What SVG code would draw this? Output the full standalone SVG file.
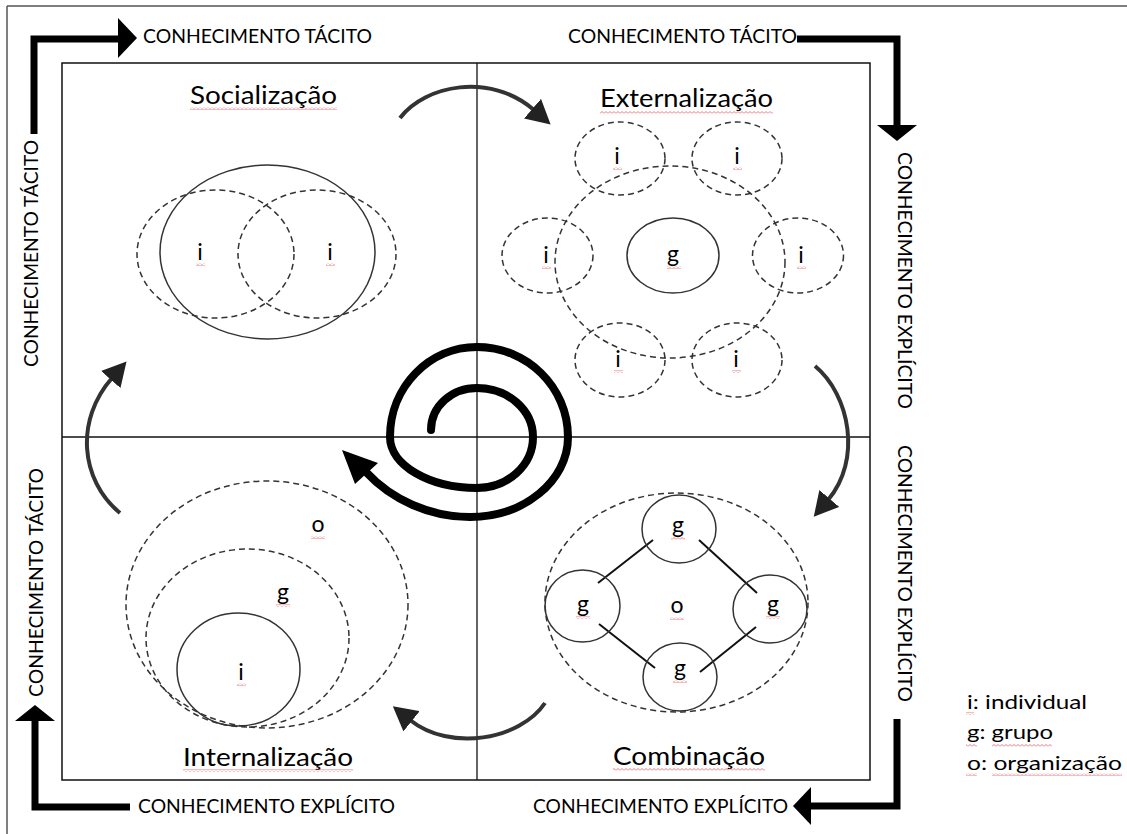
<svg xmlns="http://www.w3.org/2000/svg" width="1127" height="834" viewBox="0 0 1127 834">
<style>
.page{stroke:#555;stroke-width:1.5;fill:none}
.frame{fill:none;stroke:#111;stroke-width:1.5}
.axis{stroke:#111;stroke-width:1.3}
.thick{fill:none;stroke:#000;stroke-width:7;stroke-linejoin:miter}
.head{fill:#000}
.solid{fill:none;stroke:#333;stroke-width:1.5}
.dash{fill:none;stroke:#333;stroke-width:1.5;stroke-dasharray:6 4}
.curve{fill:none;stroke:#333;stroke-width:4;marker-end:url(#ah)}
.spiral{fill:none;stroke:#000;stroke-width:8;stroke-linecap:round}
.link{stroke:#111;stroke-width:2}
text{font-family:Lato,"Open Sans",sans-serif;fill:#000}
.lbl{font-size:19px}
.title{font-size:25px}
.letter{font-size:23px;text-anchor:middle}
.leg{font-size:20px}
.sq{fill:url(#squig)}
</style>
<defs>
<pattern id="squig" patternUnits="userSpaceOnUse" width="4" height="3">
<path d="M0,2.5 L2,0.5 L4,2.5" fill="none" stroke="#e55" stroke-width="0.8"/>
</pattern>
<marker id="ah" viewBox="0 0 24 26" refX="2" refY="13" markerWidth="24" markerHeight="26" markerUnits="userSpaceOnUse" orient="auto">
<path d="M0,0 L24,13 L0,26 z" fill="#222"/>
</marker>
</defs>

<line class="page" x1="7" y1="6" x2="1127" y2="6"/>
<line class="page" x1="7" y1="6" x2="7" y2="834"/>

<g id="frame">
<rect class="frame" x="62" y="63" width="808" height="717"/>
<line class="axis" x1="477" y1="63" x2="477" y2="780"/>
<line class="axis" x1="62" y1="437" x2="870" y2="437"/>
</g>

<g id="axis-arrows">
<path class="thick" d="M34,134 V39 H120"/>
<polygon class="head" points="118,18 137,38 118,58"/>
<path class="thick" d="M797,39 H897 V127"/>
<polygon class="head" points="877,125 917,125 897,141"/>
<path class="thick" d="M897,719 V806 H811"/>
<polygon class="head" points="811,787 811,825 793,806"/>
<path class="thick" d="M130,807 H35 V719"/>
<polygon class="head" points="15,721 55,721 35,705"/>
</g>

<g id="axis-labels">
<text class="lbl" x="143" y="43" textLength="229" lengthAdjust="spacingAndGlyphs">CONHECIMENTO TÁCITO</text>
<text class="lbl" x="568" y="43" textLength="229" lengthAdjust="spacingAndGlyphs">CONHECIMENTO TÁCITO</text>
<text class="lbl" x="533" y="813" textLength="255" lengthAdjust="spacingAndGlyphs">CONHECIMENTO EXPLÍCITO</text>
<text class="lbl" x="138" y="813" textLength="257" lengthAdjust="spacingAndGlyphs">CONHECIMENTO EXPLÍCITO</text>
<text class="lbl" transform="translate(38,367) rotate(-90)" textLength="227" lengthAdjust="spacingAndGlyphs">CONHECIMENTO TÁCITO</text>
<text class="lbl" transform="translate(43,697) rotate(-90)" textLength="229" lengthAdjust="spacingAndGlyphs">CONHECIMENTO TÁCITO</text>
<text class="lbl" transform="translate(898,152) rotate(90)" textLength="257" lengthAdjust="spacingAndGlyphs">CONHECIMENTO EXPLÍCITO</text>
<text class="lbl" transform="translate(898,445) rotate(90)" textLength="257" lengthAdjust="spacingAndGlyphs">CONHECIMENTO EXPLÍCITO</text>
</g>

<g id="connectors">
<path class="curve" d="M400,118 C425,85 490,72 534,110"/>
<path class="curve" d="M815,366 C850,395 862,460 828,500"/>
<path class="curve" d="M545,703 C520,740 450,752 410,720"/>
<path class="curve" d="M120,513 C80,480 75,420 112,378"/>
</g>

<g id="spiral">
<path class="spiral" d="M431,430 C431,406 452,388 477,388 C508,388 533,410 533,437 C533,465 508,488 477,488 C429,488 390,465 390,437 C390,387 429,347 477,347 C527,347 568,387 568,437 C568,481 524,517 470,517 C430,517 392,500 366,472"/>
<polygon class="head" points="342,450 355,484 378,463"/>
</g>

<g id="socializacao">
<text class="title" x="190" y="104" textLength="147" lengthAdjust="spacingAndGlyphs">Socialização</text>
<rect class="sq" x="190" y="107" width="147" height="3"/>
<ellipse class="solid" cx="267.5" cy="252" rx="107.5" ry="87"/>
<ellipse class="dash" cx="215.5" cy="254" rx="78.5" ry="64"/>
<ellipse class="dash" cx="317" cy="254" rx="79" ry="64"/>
<text class="letter" x="200" y="260">i</text>
<text class="letter" x="330" y="260">i</text>
<rect class="sq" x="196" y="263" width="9" height="3"/>
<rect class="sq" x="326" y="263" width="9" height="3"/>
</g>

<g id="externalizacao">
<text class="title" x="600" y="107" textLength="173" lengthAdjust="spacingAndGlyphs">Externalização</text>
<rect class="sq" x="600" y="111" width="173" height="3"/>
<ellipse class="dash" cx="670" cy="262" rx="115" ry="96"/>
<ellipse class="dash" cx="620" cy="158.5" rx="45" ry="36.5"/>
<ellipse class="dash" cx="737" cy="158.5" rx="45" ry="36.5"/>
<ellipse class="dash" cx="547.5" cy="255.5" rx="45.5" ry="37.5"/>
<ellipse class="dash" cx="798" cy="255.5" rx="45.5" ry="37.5"/>
<ellipse class="dash" cx="620" cy="360" rx="45" ry="37"/>
<ellipse class="dash" cx="737" cy="360" rx="45" ry="37"/>
<ellipse class="solid" cx="673" cy="255.5" rx="46" ry="37.5"/>
<text class="letter" x="617" y="164">i</text>
<text class="letter" x="737" y="164">i</text>
<text class="letter" x="546" y="263">i</text>
<text class="letter" x="801" y="263">i</text>
<text class="letter" x="618" y="367">i</text>
<text class="letter" x="736" y="367">i</text>
<text class="letter" x="673" y="262">g</text>
<rect class="sq" x="613" y="167" width="9" height="3"/>
<rect class="sq" x="733" y="167" width="9" height="3"/>
<rect class="sq" x="542" y="266" width="9" height="3"/>
<rect class="sq" x="797" y="266" width="9" height="3"/>
<rect class="sq" x="614" y="370" width="9" height="3"/>
<rect class="sq" x="732" y="370" width="9" height="3"/>
<rect class="sq" x="667" y="266" width="14" height="3"/>
</g>

<g id="internalizacao">
<text class="title" x="183" y="766" textLength="170" lengthAdjust="spacingAndGlyphs">Internalização</text>
<rect class="sq" x="183" y="769" width="170" height="3"/>
<ellipse class="dash" cx="267" cy="604.5" rx="141" ry="123.5"/>
<ellipse class="dash" cx="247.5" cy="638" rx="101.5" ry="89"/>
<ellipse class="solid" cx="238.5" cy="669.5" rx="61.5" ry="56.5"/>
<text class="letter" x="318" y="532">o</text>
<text class="letter" x="283" y="600">g</text>
<text class="letter" x="241" y="680">i</text>
<rect class="sq" x="311" y="536" width="14" height="3"/>
<rect class="sq" x="276" y="604" width="14" height="3"/>
<rect class="sq" x="237" y="683" width="9" height="3"/>
</g>

<g id="combinacao">
<text class="title" x="613" y="765" textLength="152" lengthAdjust="spacingAndGlyphs">Combinação</text>
<rect class="sq" x="613" y="768" width="152" height="3"/>
<ellipse class="dash" cx="676.5" cy="602.5" rx="131.5" ry="109.5"/>
<line class="link" x1="653" y1="540" x2="598" y2="583"/>
<line class="link" x1="699" y1="540" x2="757" y2="593"/>
<line class="link" x1="599" y1="624" x2="655" y2="668"/>
<line class="link" x1="700" y1="672" x2="756" y2="627"/>
<ellipse class="solid" cx="679" cy="529" rx="37" ry="34"/>
<ellipse class="solid" cx="582.5" cy="606" rx="37.5" ry="36"/>
<ellipse class="solid" cx="770" cy="609" rx="37" ry="34"/>
<ellipse class="solid" cx="680" cy="677" rx="37" ry="34"/>
<text class="letter" x="678" y="533">g</text>
<text class="letter" x="583" y="612">g</text>
<text class="letter" x="773" y="612">g</text>
<text class="letter" x="680" y="676">g</text>
<text class="letter" x="677" y="613">o</text>
<rect class="sq" x="671" y="537" width="14" height="3"/>
<rect class="sq" x="576" y="616" width="14" height="3"/>
<rect class="sq" x="766" y="616" width="14" height="3"/>
<rect class="sq" x="673" y="680" width="14" height="3"/>
<rect class="sq" x="670" y="617" width="14" height="3"/>
</g>

<g id="legend">
<text class="leg" x="967" y="709" textLength="120" lengthAdjust="spacingAndGlyphs">i: individual</text>
<text class="leg" x="967" y="739" textLength="86" lengthAdjust="spacingAndGlyphs">g: grupo</text>
<text class="leg" x="967" y="770" textLength="155" lengthAdjust="spacingAndGlyphs">o: organização</text>
<rect class="sq" x="966" y="712" width="8" height="3"/>
<rect class="sq" x="966" y="744" width="11" height="3"/>
<rect class="sq" x="992" y="744" width="60" height="3"/>
<rect class="sq" x="966" y="773" width="11" height="3"/>
<rect class="sq" x="992" y="773" width="130" height="3"/>
</g>
</svg>
